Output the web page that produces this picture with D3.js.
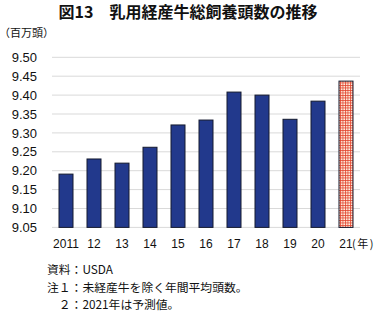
<!DOCTYPE html>
<html>
<head>
  <meta charset="UTF-8" />
  <script src="https://d3js.org/d3.v7.min.js"></script>
  <style>
    body { margin: 0; background: #fff; }
    text { font-family: "Liberation Sans", "Noto Sans CJK JP", sans-serif; fill: #111; }
    .jp { font-family: "Noto Sans CJK JP", sans-serif; }
  </style>
</head>
<body>
  <div id="chart"></div>
  <script>
    // data
    const years = ["2011", "12", "13", "14", "15", "16", "17", "18", "19", "20", "21"];
    const heads = [9.191, 9.231, 9.220, 9.262, 9.321, 9.334, 9.408, 9.400, 9.336, 9.384, 9.437];
    const forecast = [false, false, false, false, false, false, false, false, false, false, true];
    const yTicks = [9.05, 9.10, 9.15, 9.20, 9.25, 9.30, 9.35, 9.40, 9.45, 9.50];
    const notes = ["資料：USDA", "注１：未経産牛を除く年間平均頭数。", "　２：2021年は予測値。"];

    const width = 376, height = 312;
    const svg = d3.select("#chart").append("svg")
      .attr("width", width)
      .attr("height", height);

    // hatch pattern for the forecast bar
    const pat = svg.append("defs").append("pattern")
      .attr("id", "grid")
      .attr("width", 2.5)
      .attr("height", 2.5)
      .attr("patternUnits", "userSpaceOnUse");
    pat.append("rect").attr("width", 2.5).attr("height", 2.5).attr("fill", "#fff4e6");
    pat.append("path")
      .attr("d", "M0,0.5H2.5M0.5,0V2.5")
      .attr("stroke", "#e0402a")
      .attr("stroke-width", 0.8);

    const x = d3.scaleBand()
      .domain(years)
      .range([52, 360])
      .paddingInner(0.5)
      .paddingOuter(0.25);

    const y = d3.scaleLinear()
      .domain([9.05, 9.50])
      .range([227.4, 57.3]);

    // title
    svg.append("text")
      .attr("class", "jp")
      .attr("x", 188)
      .attr("y", 18)
      .attr("text-anchor", "middle")
      .style("font-size", "16px")
      .style("font-weight", "bold")
      .text("図13　乳用経産牛総飼養頭数の推移");

    svg.append("text")
      .attr("class", "jp")
      .attr("x", -1)
      .attr("y", 37)
      .style("font-size", "11px")
      .text("（百万頭）");

    // gridlines
    svg.append("g")
      .selectAll("line")
      .data(yTicks)
      .enter()
      .append("line")
      .attr("x1", 52)
      .attr("x2", 360)
      .attr("y1", d => y(d))
      .attr("y2", d => y(d))
      .attr("stroke", "#d9d9d9")
      .attr("stroke-width", 1);

    // y axis labels
    const yAxis = d3.axisLeft(y)
      .tickValues(yTicks)
      .tickFormat(d3.format(".2f"))
      .tickSize(0)
      .tickPadding(0);
    const gy = svg.append("g")
      .attr("transform", "translate(37,0)")
      .call(yAxis);
    gy.select(".domain").remove();
    gy.selectAll("text")
      .style("font-size", "13px")
      .style("font-family", "'Liberation Sans', sans-serif")
      .attr("fill", "#111");

    // bars
    svg.append("g")
      .selectAll("rect")
      .data(years)
      .enter()
      .append("rect")
      .attr("x", d => x(d))
      .attr("y", (d, i) => y(heads[i]))
      .attr("width", x.bandwidth())
      .attr("height", (d, i) => y(9.05) - y(heads[i]))
      .attr("fill", (d, i) => forecast[i] ? "url(#grid)" : "#22398c")
      .attr("stroke", "#141a2e")
      .attr("stroke-width", 1);

    // x axis labels
    const xAxis = d3.axisBottom(x).tickSize(0).tickPadding(0);
    const gx = svg.append("g")
      .attr("transform", "translate(0,239)")
      .call(xAxis);
    gx.select(".domain").remove();
    gx.selectAll("text")
      .style("font-size", "12px")
      .style("font-family", "'Liberation Sans', sans-serif")
      .attr("fill", "#111");

    svg.append("text")
      .attr("class", "jp")
      .attr("x", 352)
      .attr("y", 248)
      .style("font-size", "11px")
      .style("letter-spacing", "1.5px")
      .text("(年)");

    // footnotes
    svg.append("g")
      .selectAll("text")
      .data(notes)
      .enter()
      .append("text")
      .attr("class", "jp")
      .attr("x", 47)
      .attr("y", (d, i) => 274 + i * 17.5)
      .style("font-size", "11.8px")
      .text(d => d);
  </script>
</body>
</html>
